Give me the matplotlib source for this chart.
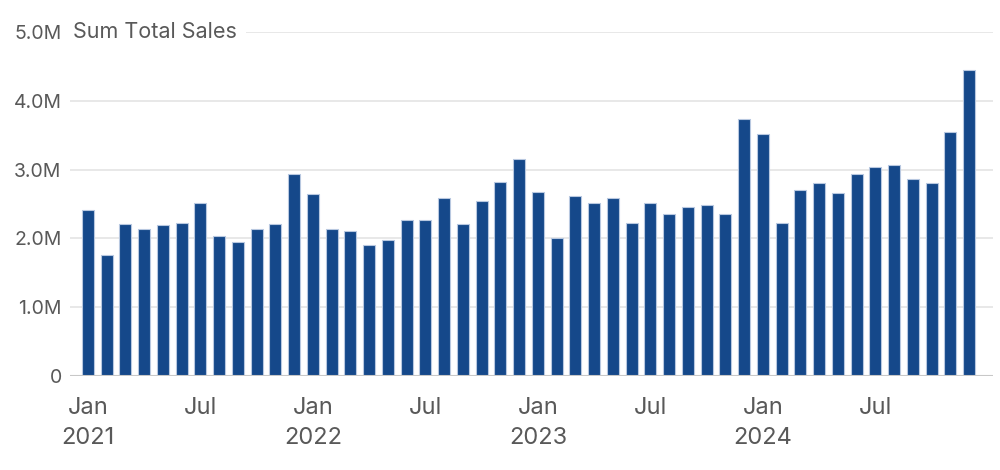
import numpy as np
import matplotlib
matplotlib.use("Agg")
import matplotlib.pyplot as plt
from matplotlib.ticker import FuncFormatter

# monthly sum of total sales, Jan 2021 .. Dec 2024 (in millions)
years = [2021, 2022, 2023, 2024]
months = ["Jan", "Feb", "Mar", "Apr", "May", "Jun",
          "Jul", "Aug", "Sep", "Oct", "Nov", "Dec"]
sales_2021 = [2.41, 1.76, 2.21, 2.14, 2.19, 2.23, 2.52, 2.04, 1.95, 2.13, 2.21, 2.93]
sales_2022 = [2.64, 2.13, 2.11, 1.90, 1.97, 2.27, 2.27, 2.58, 2.21, 2.54, 2.82, 3.15]
sales_2023 = [2.67, 2.01, 2.62, 2.51, 2.58, 2.22, 2.52, 2.35, 2.46, 2.49, 2.35, 3.73]
sales_2024 = [3.51, 2.22, 2.70, 2.80, 2.66, 2.94, 3.04, 3.06, 2.86, 2.81, 3.54, 4.45]
y_ticks = [0, 1e6, 2e6, 3e6, 4e6, 5e6]
title = "Sum Total Sales"

BAR = "#15488a"
TXT = "#595959"

sales = np.array(sales_2021 + sales_2022 + sales_2023 + sales_2024) * 1e6
x = np.arange(len(sales))

plt.rcParams["font.family"] = ["Inter", "DejaVu Sans"]

fig = plt.figure(figsize=(10, 4.7), dpi=100)
ax = fig.add_axes([0.070, 0.200, 0.923, 0.732])

ax.bar(x, sales, width=0.64, color=BAR, edgecolor="#b8c8e0", linewidth=0.8, zorder=3)

ax.set_ylim(0, 5e6)
ax.set_xlim(-0.96, len(sales) - 1 + 1.28)
ax.set_yticks(y_ticks)
ax.yaxis.set_major_formatter(FuncFormatter(lambda v, p: "0" if v == 0 else f"{v/1e6:.1f}M"))
for yv in y_ticks[1:]:
    ax.axhline(yv, color="#e4e4e4", lw=1.2, zorder=1)
ax.axhline(0, color="#c8c8c8", lw=1.5, zorder=4)

# x ticks: Jan (with year) and Jul
xt, xl = [], []
for i, yr in enumerate(years):
    xt += [i * 12, i * 12 + 6]
    xl += [f"{months[0]}\n{yr}", months[6]]
ax.set_xticks(xt)
ax.set_xticklabels(xl, linespacing=1.5)

for s in ax.spines.values():
    s.set_visible(False)
ax.tick_params(axis="both", length=0, colors=TXT)
ax.tick_params(axis="y", pad=6, labelsize=14)
ax.tick_params(axis="x", pad=15, labelsize=17)

# title sits next to the top tick label and masks the gridline
ax.text(0.003, 5e6, title, transform=ax.get_yaxis_transform(), ha="left", va="center",
        fontsize=15.5, color=TXT, zorder=5,
        bbox=dict(facecolor="white", edgecolor="none", pad=7))

fig.savefig("out.png", dpi=100, facecolor="white")
